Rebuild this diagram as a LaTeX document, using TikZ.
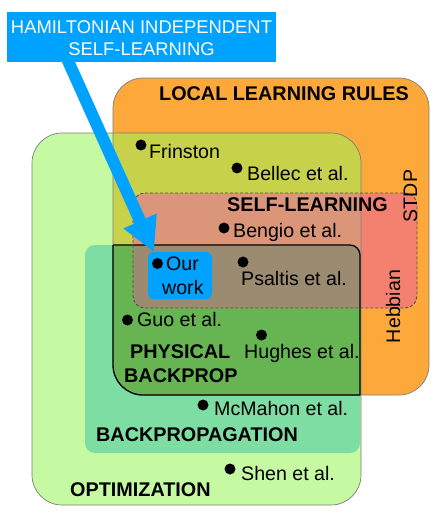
\documentclass[tikz,border=0pt]{standalone}
\usepackage{fontspec}
\setmainfont{Liberation Sans}
\usetikzlibrary{arrows.meta}
\definecolor{optc}{RGB}{197,249,162}
\definecolor{orgc}{RGB}{253,168,59}
\definecolor{olivec}{RGB}{199,210,74}
\definecolor{tealc}{RGB}{126,221,162}
\definecolor{physc}{RGB}{102,181,82}
\definecolor{pinkc}{RGB}{244,129,111}
\definecolor{salmc}{RGB}{219,150,121}
\definecolor{brownc}{RGB}{155,139,112}
\definecolor{bluec}{RGB}{0,162,255}
\definecolor{edgec}{RGB}{125,125,125}
\definecolor{dashc}{RGB}{80,82,70}
\begin{document}
\begin{tikzpicture}[x=1pt,y=-1pt,
  lab/.style={font=\fontsize{19.6}{22}\selectfont, inner sep=0pt, anchor=base west},
  blab/.style={font=\fontsize{19.8}{22}\selectfont\bfseries, inner sep=0pt, anchor=base west},
  hamtext/.style={font=\fontsize{18.4}{21}\selectfont, text=white, inner sep=0pt, anchor=base},
  dot/.style={circle, fill=black, inner sep=0pt, minimum size=11pt},
  rotlab/.style={font=\fontsize{19.6}{22}\selectfont, inner sep=0pt, anchor=base, rotate=90},
  outline/.style={draw=edgec, line width=0.7pt},
  bigarrow/.style={draw=bluec, line width=12pt, -{Triangle[length=34pt,width=34pt]}}
]
\useasboundingbox (0,0) rectangle (436,523);
% regions
\fill[optc, rounded corners=30pt] (32,133) rectangle (361,505);
\fill[orgc, rounded corners=30pt] (113,78) rectangle (429,395);
\begin{scope}
  \clip[rounded corners=30pt] (113,78) rectangle (429,395);
  \fill[olivec, rounded corners=30pt] (32,133) rectangle (361,505);
\end{scope}
\fill[tealc, rounded corners=10pt] (85,245) rectangle (360,453);
\begin{scope}
  \clip[rounded corners=30pt] (113,78) rectangle (429,395);
  \fill[physc, rounded corners=10pt] (85,245) rectangle (360,453);
\end{scope}
\fill[pinkc, rounded corners=12pt] (133,193) rectangle (417,308);
\begin{scope}
  \clip[rounded corners=12pt] (133,193) rectangle (417,308);
  \fill[salmc, rounded corners=30pt] (32,133) rectangle (361,505);
  \fill[brownc, rounded corners=10pt] (85,245) rectangle (360,453);
\end{scope}
% outlines
\draw[outline, rounded corners=30pt] (32,133) rectangle (361,505);
\draw[outline, rounded corners=30pt] (113,78) rectangle (429,395);
\begin{scope}
  \clip[rounded corners=30pt] (113,78) rectangle (429,395);
  \draw[black, line width=1.3pt, rounded corners=10pt] (85,245) rectangle (360,453);
\end{scope}
\begin{scope}
  \clip[rounded corners=10pt] (85,245) rectangle (360,453);
  \draw[black, line width=1.3pt, rounded corners=30pt] (113,78) rectangle (429,395);
\end{scope}
\draw[dashc, line width=0.9pt, dash pattern=on 3pt off 2pt, rounded corners=12pt] (133,193) rectangle (417,308);
% our work box and arrow
\node[fill=bluec, rounded corners=6pt, minimum width=64pt, minimum height=47pt, inner sep=0pt] (ow) at (180,275.5) {};
\coordinate (astart) at (64,52);
\coordinate (atip) at (154,252);
\draw[bigarrow] (astart) -- (atip);
\node[fill=bluec, minimum width=269pt, minimum height=50pt, inner sep=0pt] (ham) at (141.5,37) {};
\node[hamtext] (h1) at (141.5,33.3) {HAMILTONIAN INDEPENDENT};
\node[hamtext] (h2) at (141.5,55) {SELF-LEARNING};
% labels
\node[blab] (llr) at (159,100.7) {LOCAL LEARNING RULES};
\node[blab] (sl) at (227,211.7) {SELF-LEARNING};
\node[blab] (pb1) at (130,358) {PHYSICAL};
\node[blab] (pb2) at (124,382.7) {BACKPROP};
\node[blab] (bp) at (96,441) {BACKPROPAGATION};
\node[blab] (opt) at (70,496.7) {OPTIMIZATION};
\node[rotlab] (stdp) at (417,196) {STDP};
\node[rotlab] (hebb) at (400,306.5) {Hebbian};
% references
\node[dot] (d1) at (141,145) {};
\node[lab] (t1) at (149,158) {Frinston};
\node[dot] (d2) at (237,168) {};
\node[lab] (t2) at (247,180) {Bellec et al.};
\node[dot] (d3) at (224,228) {};
\node[lab] (t3) at (233,237.7) {Bengio et al.};
\node[dot] (d4) at (157.5,263.5) {};
\node[lab] (t4a) at (166,270.7) {Our};
\node[lab] (t4b) at (162,294) {work};
\node[dot] (d5) at (243,262) {};
\node[lab] (t5) at (241,285) {Psaltis et al.};
\node[dot] (d6) at (127.5,320) {};
\node[lab] (t6) at (137,326.7) {Guo et al.};
\node[dot] (d7) at (261.5,335) {};
\node[lab] (t7) at (244,358) {Hughes et al.};
\node[dot] (d8) at (203,405) {};
\node[lab] (t8) at (214,415) {McMahon et al.};
\node[dot] (d9) at (230,469) {};
\node[lab] (t9) at (241,480) {Shen et al.};
\end{tikzpicture}
\end{document}
